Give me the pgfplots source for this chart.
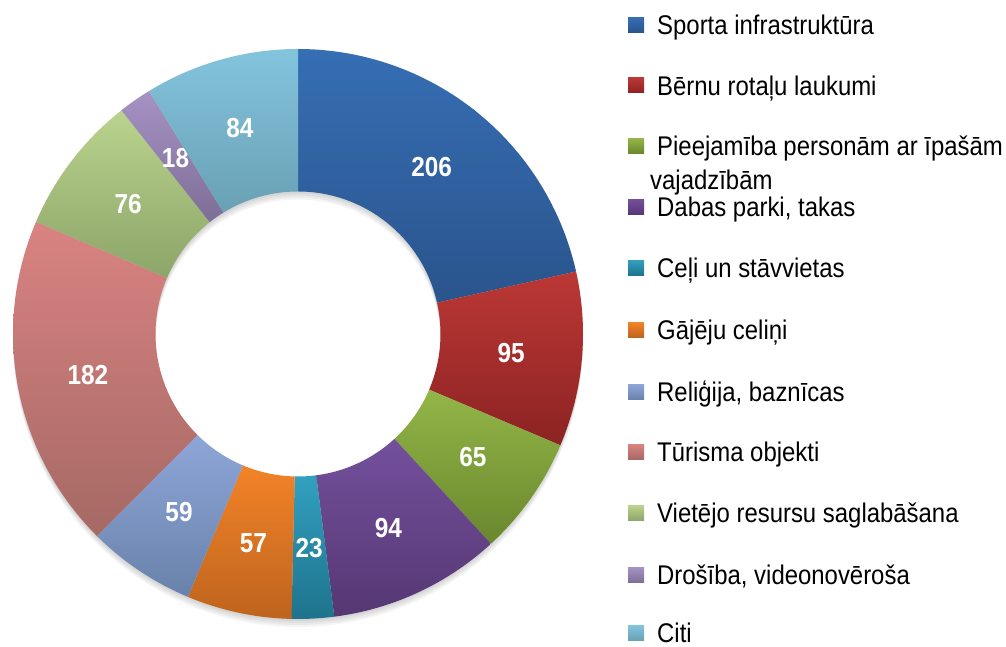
\documentclass[border=0pt]{standalone}
\usepackage{pgfplots}
\pgfplotsset{compat=1.18}
\usepackage{pgfplotstable}
\usepackage{fontspec}
\setmainfont[FakeStretch=0.886]{Liberation Sans}

% slice colours: top (light) and bottom (dark) of the gradient
\definecolor{t0}{RGB}{54,110,180}   \definecolor{b0}{RGB}{42,84,140}
\definecolor{t1}{RGB}{187,56,53}    \definecolor{b1}{RGB}{140,35,35}
\definecolor{t2}{RGB}{147,182,72}   \definecolor{b2}{RGB}{105,135,45}
\definecolor{t3}{RGB}{116,80,156}   \definecolor{b3}{RGB}{85,55,115}
\definecolor{t4}{RGB}{50,160,192}   \definecolor{b4}{RGB}{30,115,140}
\definecolor{t5}{RGB}{242,131,40}   \definecolor{b5}{RGB}{190,100,30}
\definecolor{t6}{RGB}{141,166,216}  \definecolor{b6}{RGB}{105,130,170}
\definecolor{t7}{RGB}{217,131,130}  \definecolor{b7}{RGB}{165,105,100}
\definecolor{t8}{RGB}{186,211,141}  \definecolor{b8}{RGB}{140,165,105}
\definecolor{t9}{RGB}{166,146,196}  \definecolor{b9}{RGB}{125,110,150}
\definecolor{t10}{RGB}{131,196,221} \definecolor{b10}{RGB}{105,160,180}

\pgfplotstableread{
idx value
0 206
1 95
2 65
3 94
4 23
5 57
6 59
7 182
8 76
9 18
10 84
}\donutdata

% total of the values
\gdef\cum{0}
\pgfplotstableforeachcolumnelement{value}\of\donutdata\as\v{%
  \pgfmathparse{\cum+\v}\xdef\cum{\pgfmathresult}}
\xdef\total{\cum}
% start / end angles of each slice (clockwise from the top)
\gdef\cum{0}
\pgfplotstableforeachcolumnelement{value}\of\donutdata\as\v{%
  \pgfmathparse{90-(\cum/\total)*360}\expandafter\xdef\csname sa\pgfplotstablerow\endcsname{\pgfmathresult}%
  \pgfmathparse{\cum+\v}\xdef\cum{\pgfmathresult}%
  \pgfmathparse{90-(\cum/\total)*360}\expandafter\xdef\csname ea\pgfplotstablerow\endcsname{\pgfmathresult}%
  \pgfmathtruncatemacro{\vi}{\v}%
  \expandafter\xdef\csname val\pgfplotstablerow\endcsname{\vi}%
}

\newcommand\legitem[3]{%
  \shade[top color=t#1,bottom color=b#1] (628pt,{647pt-#2pt+2.5pt}) rectangle (644pt,{647pt-#2pt+17.5pt});
  \node[anchor=base west,inner sep=0pt,font=\fontsize{27}{32}\selectfont] at (657pt,{647pt-#2pt}) {#3};}

\begin{document}%
\begin{tikzpicture}
\begin{axis}[x=1pt,y=1pt,xmin=0,xmax=1006,ymin=0,ymax=647,
  hide axis,anchor=origin,at={(0,0)},clip=false]
% soft shadow
\pgfplotsinvokeforeach{2,4,6,8}{
  \addplot[draw=none,fill=black,fill opacity=0.045,even odd rule,domain=0:360,samples=120]
    ({298+285*cos(x)},{313-#1+285*sin(x)}) -- cycle
    (axis cs:{298+142.5},{313-#1}) arc[start angle=0,end angle=360,radius=142.5pt] -- cycle;
}
% ring slices
\pgfplotsinvokeforeach{0,...,10}{
  \addplot[draw=none,top color=t#1,bottom color=b#1,
    domain={\csname ea#1\endcsname}:{\csname sa#1\endcsname},samples=60]
    ({298+285*cos(x)},{313+285*sin(x)})
    -- (axis cs:{298+142.5*cos(\csname sa#1\endcsname)},{313+142.5*sin(\csname sa#1\endcsname)})
    arc[start angle=\csname sa#1\endcsname,end angle=\csname ea#1\endcsname,radius=142.5pt] -- cycle;
  \node[text=white,font=\bfseries\fontsize{27.5}{27.5}\selectfont,inner sep=0pt]
    at (axis cs:{298+214*cos((\csname sa#1\endcsname+\csname ea#1\endcsname)/2)},
                {313+214*sin((\csname sa#1\endcsname+\csname ea#1\endcsname)/2)})
    {\csname val#1\endcsname};
}
\end{axis}
% legend
\legitem{0}{35}{Sporta infrastruktūra}
\legitem{1}{95.5}{Bērnu rotaļu laukumi}
\legitem{2}{156}{Pieejamība personām ar īpašām}
\node[anchor=base west,inner sep=0pt,font=\fontsize{27}{32}\selectfont] at (650pt,{647pt-190pt}) {vajadzībām};
\legitem{3}{217}{Dabas parki, takas}
\legitem{4}{278}{Ceļi un stāvvietas}
\legitem{5}{340}{Gājēju celiņi}
\legitem{6}{402}{Reliģija, baznīcas}
\legitem{7}{462}{Tūrisma objekti}
\legitem{8}{523}{Vietējo resursu saglabāšana}
\legitem{9}{585}{Drošība, videonovēroša}
\legitem{10}{643}{Citi}
\pgfresetboundingbox
\path (0,0) rectangle (1006pt,647pt);
\end{tikzpicture}%
\end{document}
